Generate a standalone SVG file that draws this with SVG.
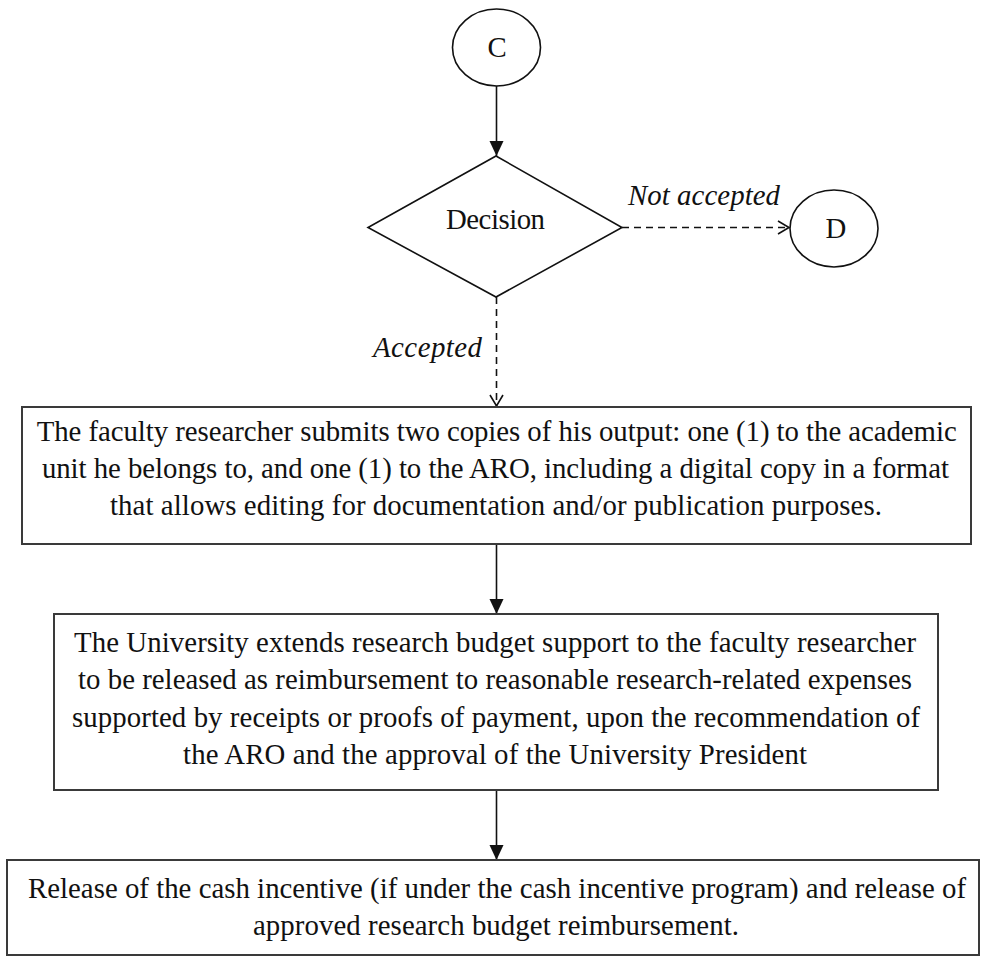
<svg xmlns="http://www.w3.org/2000/svg" width="981" height="956" viewBox="0 0 981 956">
<style>
  .t { font-family: "Liberation Serif", "Times New Roman", serif; font-size: 28.8px; fill: #111; text-anchor: middle; }
  .it { font-style: italic; }
  .box { fill: #fff; stroke: #3a3a3a; stroke-width: 2; }
  .shape { fill: #fff; stroke: #111; stroke-width: 1.6; }
  .conn { fill: none; stroke: #111; stroke-width: 1.6; }
  .dash { stroke-dasharray: 7 5; }
</style>
<defs>
  <marker id="solid" markerUnits="userSpaceOnUse" markerWidth="16" markerHeight="16" refX="15" refY="7" orient="auto" overflow="visible">
    <path d="M0,0 L15,7 L0,14 z" fill="#111"/>
  </marker>
  <marker id="open" markerUnits="userSpaceOnUse" markerWidth="14" markerHeight="16" refX="11" refY="6.5" orient="auto" overflow="visible">
    <path d="M0,0 L11,6.5 L0,13" fill="none" stroke="#111" stroke-width="1.6"/>
  </marker>
</defs>

<g id="connectors">
  <line class="conn" x1="496.5" y1="86" x2="496.5" y2="156" marker-end="url(#solid)"/>
  <line class="conn dash" x1="622" y1="227.5" x2="789" y2="227.5" marker-end="url(#open)"/>
  <line class="conn dash" x1="496.5" y1="297" x2="496.5" y2="406" marker-end="url(#open)"/>
  <line class="conn" x1="496.5" y1="544" x2="496.5" y2="614" marker-end="url(#solid)"/>
  <line class="conn" x1="496.5" y1="790" x2="496.5" y2="860" marker-end="url(#solid)"/>
  <text class="t it" x="704" y="205" textLength="152" lengthAdjust="spacing">Not accepted</text>
  <text class="t it" x="427.5" y="357" textLength="109" lengthAdjust="spacing">Accepted</text>
</g>

<g id="node-c">
  <ellipse class="shape" cx="496.5" cy="47.5" rx="44" ry="38.5"/>
  <text class="t" x="497" y="57">C</text>
</g>

<g id="node-decision">
  <polygon class="shape" points="496,156 622,227.5 496,297 368,227.5"/>
  <text class="t" x="495.5" y="229" textLength="99" lengthAdjust="spacing">Decision</text>
</g>

<g id="node-d">
  <ellipse class="shape" cx="834" cy="228.5" rx="44" ry="38.5"/>
  <text class="t" x="836" y="237.5">D</text>
</g>

<g id="node-submit">
  <rect class="box" x="22" y="407" width="949" height="137"/>
  <text class="t" x="496.7" y="441" textLength="920" lengthAdjust="spacing">The faculty researcher submits two copies of his output: one (1) to the academic</text>
  <text class="t" x="495.4" y="478" textLength="907" lengthAdjust="spacing">unit he belongs to, and one (1) to the ARO, including a digital copy in a format</text>
  <text class="t" x="496" y="515" textLength="772" lengthAdjust="spacing">that allows editing for documentation and/or publication purposes.</text>
</g>

<g id="node-budget">
  <rect class="box" x="54" y="614" width="884" height="176"/>
  <text class="t" x="495" y="652" textLength="842" lengthAdjust="spacing">The University extends research budget support to the faculty researcher</text>
  <text class="t" x="495" y="689" textLength="834" lengthAdjust="spacing">to be released as reimbursement to reasonable research-related expenses</text>
  <text class="t" x="496" y="727" textLength="848" lengthAdjust="spacing">supported by receipts or proofs of payment, upon the recommendation of</text>
  <text class="t" x="495" y="764" textLength="624" lengthAdjust="spacing">the ARO and the approval of the University President</text>
</g>

<g id="node-release">
  <rect class="box" x="7" y="860" width="972" height="95"/>
  <text class="t" x="497" y="898" textLength="938" lengthAdjust="spacing">Release of the cash incentive (if under the cash incentive program) and release of</text>
  <text class="t" x="496" y="935" textLength="486" lengthAdjust="spacing">approved research budget reimbursement.</text>
</g>
</svg>
